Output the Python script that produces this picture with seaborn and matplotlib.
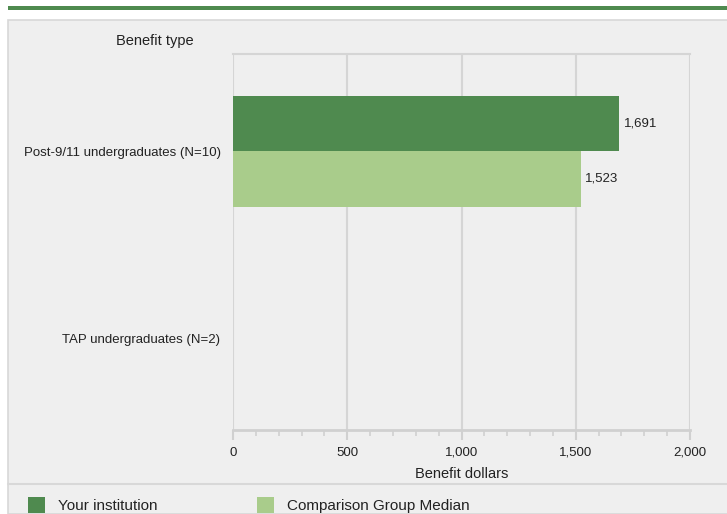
import matplotlib
matplotlib.use("Agg")
import matplotlib.pyplot as plt
import seaborn as sns
import pandas as pd
import numpy as np
from matplotlib.patches import Rectangle
from matplotlib.lines import Line2D
from matplotlib.ticker import MultipleLocator, FuncFormatter

categories = ["Post-9/11 undergraduates (N=10)", "TAP undergraduates (N=2)"]
series = ["Your institution", "Comparison Group Median"]
your_values = [1691, np.nan]
median_values = [1523, np.nan]
colors = ["#4f8a4f", "#a9cc8b"]

rows = []
for c, v in zip(categories, your_values):
    rows.append({"cat": c, "series": series[0], "val": v})
for c, v in zip(categories, median_values):
    rows.append({"cat": c, "series": series[1], "val": v})
df = pd.DataFrame(rows)

sns.set_style("white")
plt.rcParams['font.family'] = ['Liberation Sans', 'DejaVu Sans']

W, H = 727, 514
fig = plt.figure(figsize=(W / 100, H / 100), dpi=100)
fig.patch.set_facecolor("white")

def fx(px):
    return px / W

def fy(py):
    return 1 - py / H

# panel background
fig.patches.append(Rectangle((fx(8), 0), fx(W) - fx(8) + 0.01, fy(20), transform=fig.transFigure,
                             facecolor="#efefef", edgecolor="#d8d8d8", linewidth=1.2, zorder=-2))
# top green band
fig.patches.append(Rectangle((fx(8), fy(10)), 1, 4 / H, transform=fig.transFigure,
                             facecolor="#4f8a4f", edgecolor="none", zorder=1))
# separator line above legend
fig.lines.append(Line2D([fx(8), 1], [fy(484), fy(484)], transform=fig.transFigure,
                        color="#d8d8d8", linewidth=1.5, zorder=1))

left, right, top, bottom = 233, 690, 54, 430
ax = fig.add_axes([fx(left), fy(bottom), fx(right) - fx(left), (bottom - top) / H])
ax.set_facecolor("none")
ax.set_zorder(2)

sns.barplot(data=df, y="cat", x="val", hue="series", order=categories, hue_order=series,
            palette=colors, orient="h", width=0.594, ax=ax, legend=False, saturation=1,
            linewidth=0, errorbar=None)

ax.set_ylim(1.492, -0.519)
ax.set_xlim(0, 2000)
ax.xaxis.set_major_locator(MultipleLocator(500))
ax.xaxis.set_minor_locator(MultipleLocator(100))
ax.xaxis.set_major_formatter(FuncFormatter(lambda v, p: f"{int(v):,}"))
ax.grid(axis="x", which="major", color="#d5d5d5", linewidth=1.5, zorder=0)
ax.set_axisbelow(True)
for s in ["left", "right"]:
    ax.spines[s].set_visible(False)
ax.spines["top"].set_color("#d5d5d5")
ax.spines["top"].set_linewidth(1.5)
ax.spines["bottom"].set_color("#d0d0d0")
ax.spines["bottom"].set_linewidth(2)
ax.tick_params(axis="x", which="major", length=7, width=1.5, color="#d0d0d0",
               labelsize=9.5, labelcolor="#222222", pad=5, bottom=True)
ax.tick_params(axis="x", which="minor", length=4, width=1.2, color="#d0d0d0", bottom=True)
ax.tick_params(axis="y", length=0, labelsize=9.5, labelcolor="#222222", pad=9)
ax.set_ylabel("")
ax.set_xlabel("Benefit dollars", fontsize=10.5, color="#222222", labelpad=6)

for cont in ax.containers:
    labels = [f"{v:,.0f}" if not np.isnan(v) else "" for v in cont.datavalues]
    ax.bar_label(cont, labels=labels, padding=3, fontsize=9.5, color="#222222")

fig.text(fx(155), fy(41), "Benefit type", ha="center", va="center", fontsize=10.5, color="#222222")

# legend
for (x0, tx), lab, col in zip([(28, 58), (257, 287)], series, colors):
    fig.patches.append(Rectangle((fx(x0), fy(513)), 17 / W, 16 / H, transform=fig.transFigure,
                                 facecolor=col, edgecolor="none"))
    fig.text(fx(tx), fy(506), lab, ha="left", va="center", fontsize=11, color="#222222")

fig.savefig("out.png", dpi=100)
